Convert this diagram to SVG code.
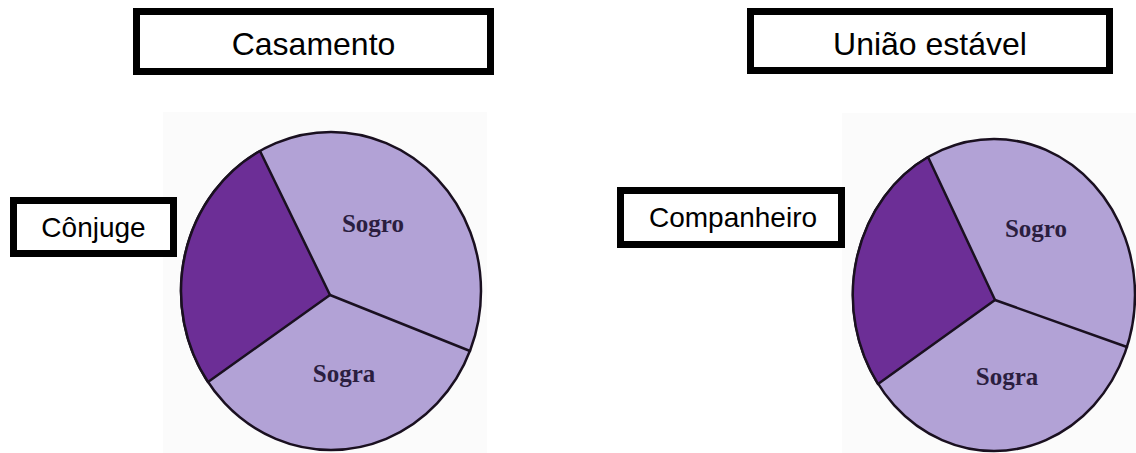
<svg xmlns="http://www.w3.org/2000/svg" width="1136" height="453" viewBox="0 0 1136 453">
  <style>
    .box { fill: #ffffff; stroke: #000000; stroke-width: 7; }
    .lbl { font-family: "Liberation Sans", Arial, sans-serif; fill: #000000; text-anchor: middle; }
    .bg { fill: #fbfbfb; }
    .light { fill: #b2a2d6; stroke: #1a1020; stroke-width: 2.5; }
    .dark { fill: #6c2e96; stroke: #1a1020; stroke-width: 2.5; stroke-linejoin: round; }
    .cut { fill: none; stroke: #1a1020; stroke-width: 2.5; stroke-linecap: round; }
    .pl { font-family: "Liberation Serif", "Times New Roman", serif; font-weight: bold; font-size: 25px; fill: #2b1e3f; text-anchor: middle; }
  </style>
  <rect width="1136" height="453" fill="#ffffff"/>

  <g id="pie-casamento">
    <rect class="bg" x="163" y="112" width="324" height="341"/>
    <ellipse class="light" cx="331" cy="291" rx="150" ry="159"/>
    <path class="dark" d="M 330 295 L 208 382 A 150 159 0 0 1 260 151 Z"/>
    <text class="pl" x="373" y="232">Sogro</text>
    <text class="pl" x="344" y="382">Sogra</text>
  </g>

  <g id="pie-uniao">
    <rect class="bg" x="842" y="113" width="294" height="340"/>
    <ellipse class="light" cx="994" cy="295" rx="141" ry="156"/>
    <path class="dark" d="M 995 300 L 878 384 A 141 156 0 0 1 928 157 Z"/>
    <text class="pl" x="1036" y="237">Sogro</text>
    <text class="pl" x="1007" y="385">Sogra</text>
  </g>

  <g id="connectors">
    <path class="cut" d="M 330 295 L 470 351"/>
    <path class="cut" d="M 995 300 L 1127 347"/>
  </g>

  <g id="title-casamento">
    <rect class="box" x="136.5" y="11.5" width="354" height="60"/>
    <text class="lbl" x="313.5" y="55" font-size="32">Casamento</text>
  </g>

  <g id="title-uniao">
    <rect class="box" x="750.5" y="11.5" width="359" height="59"/>
    <text class="lbl" x="930" y="55" font-size="32">União estável</text>
  </g>

  <g id="label-conjuge">
    <rect class="box" x="13.5" y="200.5" width="160" height="53"/>
    <text class="lbl" x="93.5" y="237" font-size="28">Cônjuge</text>
  </g>

  <g id="label-companheiro">
    <rect class="box" x="620.5" y="190.5" width="221" height="54"/>
    <text class="lbl" x="733" y="227" font-size="28">Companheiro</text>
  </g>
</svg>
